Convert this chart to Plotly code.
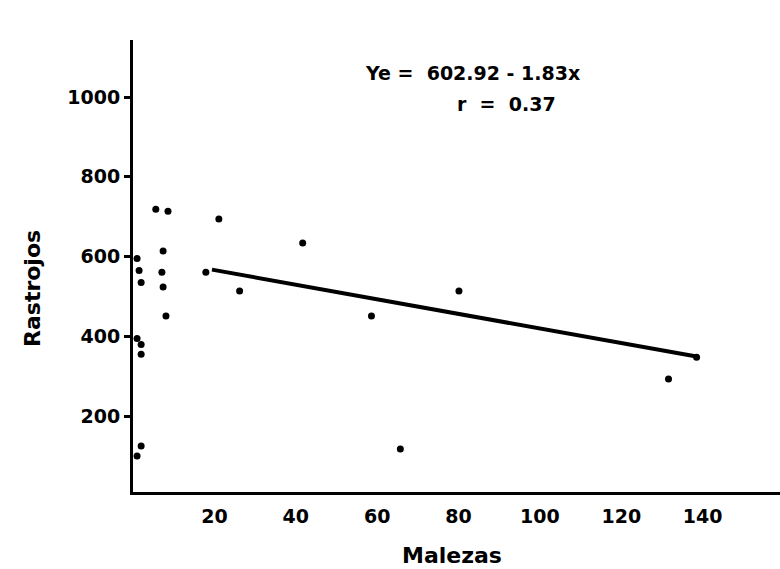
import plotly.graph_objects as go

# Data
malezas = [5.6, 8.6, 7.4, 7.1, 7.4, 8.1, 17.9, 21.1, 26.2, 41.7, 58.6, 65.7, 80.1, 131.6, 138.5,
           1.0, 1.5, 2.0, 1.0, 2.0, 2.0, 2.0, 1.0]
rastrojos = [719, 714, 614, 561, 524, 451, 561, 694, 514, 634, 451, 118, 514, 293, 348,
             595, 565, 535, 395, 380, 355, 125, 100]
line_x = [19.4, 138.5]
intercept = 602.92
slope = -1.83
line_y = [intercept + slope * x for x in line_x]

x_ticks = [20, 40, 60, 80, 100, 120, 140]
y_ticks = [200, 400, 600, 800, 1000]

FONT = "DejaVu Sans"
L, R, T, B = 133, 0, 40, 77
PW, PH = 780 - L - R, 569 - T - B


def px(x):
    return (x - L) / PW


def py(y):
    return (569 - B - y) / PH


fig = go.Figure()
fig.add_trace(go.Scatter(x=malezas, y=rastrojos, mode="markers",
                         marker=dict(color="black", size=7), showlegend=False))
fig.add_trace(go.Scatter(x=line_x, y=line_y, mode="lines",
                         line=dict(color="black", width=4), showlegend=False))

fig.update_layout(
    width=780, height=569,
    margin=dict(l=L, r=R, t=T, b=B),
    plot_bgcolor="white", paper_bgcolor="white",
    font=dict(family=FONT, color="black"),
    xaxis=dict(range=[0, 159], tickvals=x_ticks, ticktext=[f"<b>{v}</b>" for v in x_ticks],
               showgrid=False, zeroline=False, showline=True, linecolor="black", linewidth=3,
               ticks="outside", ticklen=5, tickcolor="white", tickfont=dict(size=19, family=FONT)),
    yaxis=dict(range=[10, 1143], tickvals=y_ticks, ticktext=[f"<b>{v}</b>" for v in y_ticks],
               showgrid=False, zeroline=False, showline=True, linecolor="black", linewidth=3,
               ticks="outside", ticklen=6, tickwidth=2.5, tickcolor="black",
               tickfont=dict(size=19, family=FONT)),
)


def label(x, y, text, size, angle=0):
    fig.add_annotation(x=px(x), y=py(y), xref="paper", yref="paper", text=text,
                       showarrow=False, xanchor="center", yanchor="middle", textangle=angle,
                       font=dict(family=FONT, size=size, color="black"))


label(472, 73, "<b>Ye =  602.92 - 1.83x</b>", 19)
label(507, 104, "<b>r  =  0.37</b>", 19)
label(452, 555, "<b>Malezas</b>", 22)
label(32, 289, "<b>Rastrojos</b>", 22, angle=-90)

fig.write_html("out.html", config={"displayModeBar": False},
               post_script="document.body.style.margin='0';document.body.style.overflow='hidden';")
